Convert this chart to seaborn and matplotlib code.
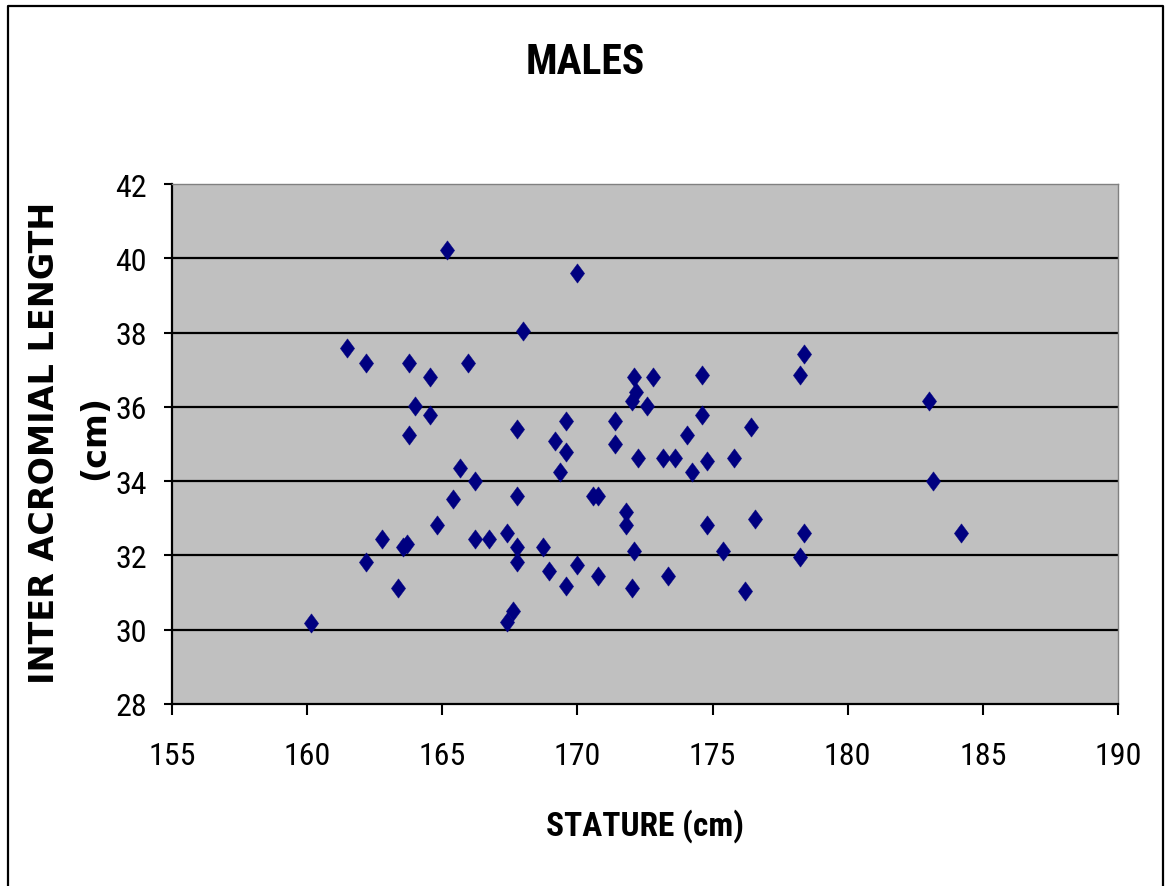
import matplotlib
matplotlib.use("Agg")
import matplotlib.pyplot as plt
from matplotlib import font_manager as fm
from matplotlib.path import Path
from matplotlib.lines import Line2D
import seaborn as sns
import pandas as pd

# Data
stature = [160.14, 161.47, 162.18, 162.18, 162.77, 163.36, 163.55, 163.69, 163.77, 163.77,
           163.99, 164.54, 164.54, 164.80, 165.17, 165.40, 165.65, 165.95, 166.21, 166.21,
           166.73, 167.39, 167.39, 167.62, 167.76, 167.76, 167.76, 167.76, 167.99, 168.73,
           168.95, 169.17, 169.35, 169.58, 169.58, 169.58, 169.98, 169.98, 170.58, 170.76,
           170.76, 171.39, 171.39, 171.80, 171.80, 172.02, 172.02, 172.09, 172.17, 172.09,
           172.24, 172.57, 172.80, 173.16, 173.35, 173.61, 174.05, 174.24, 174.61, 174.61,
           174.79, 174.79, 175.38, 175.79, 176.20, 176.42, 176.57, 178.23, 178.38, 178.23,
           178.38, 183.01, 183.15, 184.19]
acromial = [30.18, 37.59, 37.18, 31.82, 32.44, 31.12, 32.23, 32.31, 37.18, 35.24,
            36.02, 36.80, 35.78, 32.82, 40.22, 33.52, 34.35, 37.18, 34.00, 32.44,
            32.44, 32.60, 30.21, 30.50, 32.23, 31.82, 33.60, 35.40, 38.04, 32.23,
            31.58, 35.08, 34.25, 34.79, 35.62, 31.18, 39.60, 31.74, 33.60, 33.60,
            31.45, 35.62, 35.00, 33.17, 32.82, 31.12, 36.16, 36.80, 36.40, 32.12,
            34.62, 36.02, 36.80, 34.62, 31.45, 34.62, 35.24, 34.25, 36.86, 35.78,
            34.54, 32.82, 32.12, 34.62, 31.04, 35.46, 32.98, 36.86, 37.42, 31.96,
            32.60, 36.16, 34.00, 32.60]
x_ticks = [155, 160, 165, 170, 175, 180, 185, 190]
y_ticks = [28, 30, 32, 34, 36, 38, 40, 42]
title_text = "MALES"
x_label = "STATURE (cm)"
y_label_1 = "INTER ACROMIAL LENGTH"
y_label_2 = "(cm)"

df = pd.DataFrame({"stature": stature, "acromial": acromial})

sns.set_theme(style="white")
plt.rcParams["font.family"] = ["Liberation Sans", "DejaVu Sans"]
plt.rcParams["text.color"] = "black"


def find_condensed(bold):
    prefs = ["liberation sans narrow", "arial narrow", "nimbus sans narrow",
             "roboto condensed", "open sans condensed", "dejavu sans condensed",
             "noto sans condensed"]
    best = None
    best_rank = 99
    for f in fm.fontManager.ttflist:
        key = (f.name + " " + f.fname).lower()
        if not ("narrow" in key or "condensed" in key or str(f.stretch) in ("condensed", "semi-condensed")):
            continue
        if f.style != "normal":
            continue
        w = f.weight if isinstance(f.weight, int) else (700 if "bold" in str(f.weight) else 400)
        if bold and w < 600:
            continue
        if not bold and w >= 600:
            continue
        if "mono" in key or "serif" in key.replace("sans serif", ""):
            continue
        rank = 50
        for i, p in enumerate(prefs):
            if p in key:
                rank = i
                break
        if rank < best_rank:
            best_rank = rank
            best = f.fname
    return best


reg_path = find_condensed(False)
bold_path = find_condensed(True)
if reg_path:
    fp_reg = fm.FontProperties(fname=reg_path, size=23)
    tick_size = 23
else:
    fp_reg = fm.FontProperties(family="Liberation Sans", size=20)
    tick_size = 20
if bold_path:
    fp_title = fm.FontProperties(fname=bold_path, size=30)
    fp_xlab = fm.FontProperties(fname=bold_path, size=24)
else:
    fp_title = fm.FontProperties(family="Liberation Sans", weight="bold", size=26)
    fp_xlab = fm.FontProperties(family="Liberation Sans", weight="bold", size=20)
fp_ylab = fm.FontProperties(family="DejaVu Sans", weight="bold", size=24)

W, H = 1165, 887
fig = plt.figure(figsize=(W / 100, H / 100), dpi=100)
fig.patch.set_facecolor("white")
ax = fig.add_axes([172 / W, 1 - 705 / H, (1118 - 172) / W, (705 - 185) / H])
ax.set_facecolor("#C0C0C0")

diamond = Path([(0, 1), (0.74, 0), (0, -1), (-0.74, 0), (0, 1)],
               [Path.MOVETO, Path.LINETO, Path.LINETO, Path.LINETO, Path.CLOSEPOLY])
sns.scatterplot(data=df, x="stature", y="acromial", ax=ax, marker=diamond,
                s=13.9 ** 2, color="#000080", edgecolor="#000080", linewidth=0.3,
                zorder=3, legend=False)

ax.set_xlim(x_ticks[0], x_ticks[-1])
ax.set_ylim(y_ticks[0], y_ticks[-1])
ax.set_xticks(x_ticks)
ax.set_yticks(y_ticks)
ax.set_xticklabels([str(t) for t in x_ticks])
ax.set_yticklabels([str(t) for t in y_ticks])
for lab in ax.get_xticklabels() + ax.get_yticklabels():
    lab.set_fontproperties(fp_reg)
    lab.set_color("black")
ax.tick_params(axis="x", which="major", bottom=True, direction="out", length=8,
               width=1.5, color="black", pad=19)
ax.tick_params(axis="y", which="major", left=True, direction="out", length=6,
               width=1.5, color="black", pad=12)
ax.set_xlabel("")
ax.set_ylabel("")

ax.set_axisbelow(True)
ax.yaxis.grid(True, color="black", linewidth=1.6)
ax.xaxis.grid(False)
gls = ax.yaxis.get_gridlines()
gls[0].set_visible(False)
gls[-1].set_visible(False)

for side in ("left", "bottom"):
    ax.spines[side].set_color("black")
    ax.spines[side].set_linewidth(1.6)
for side in ("top", "right"):
    ax.spines[side].set_color("#808080")
    ax.spines[side].set_linewidth(1.0)

fig.text(585 / W, 1 - 62 / H, title_text, ha="center", va="center",
         fontproperties=fp_title, color="black")
fig.text(645 / W, 1 - 826 / H, x_label, ha="center", va="center",
         fontproperties=fp_xlab, color="black")
fig.text(45 / W, 1 - 443 / H, y_label_1, ha="center", va="center", rotation=90,
         fontproperties=fp_ylab, color="black")
fig.text(95 / W, 1 - 438 / H, y_label_2, ha="center", va="center", rotation=90,
         fontproperties=fp_ylab, color="black")

border = Line2D([8 / W, 8 / W, 1163 / W, 1163 / W],
                [-0.05, 1 - 7 / H, 1 - 7 / H, -0.05],
                transform=fig.transFigure, color="black", linewidth=1.6)
fig.add_artist(border)

fig.savefig("out.png", dpi=100, facecolor="white")
